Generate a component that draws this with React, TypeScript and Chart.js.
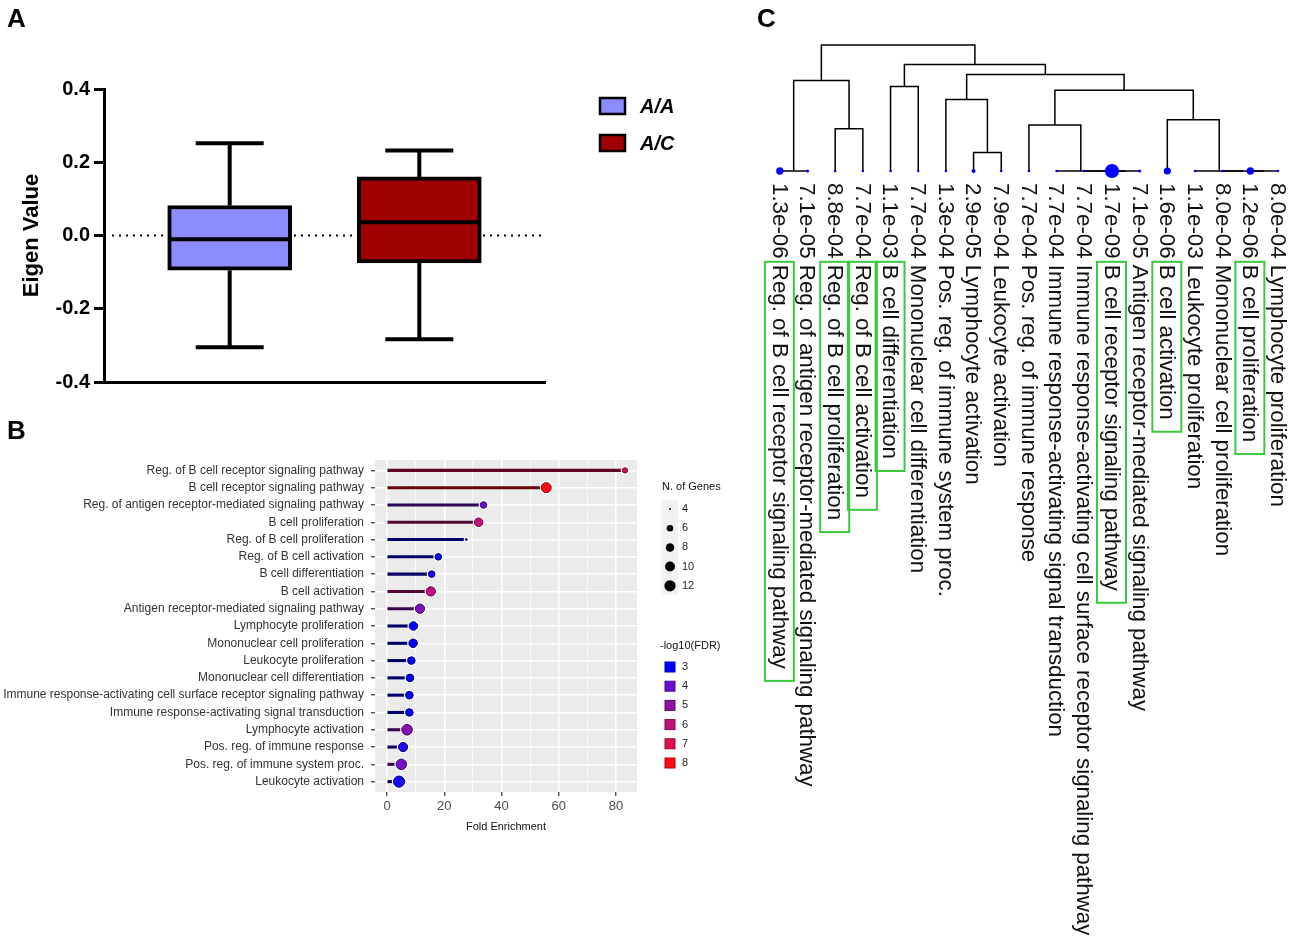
import React, { useEffect, useRef } from "react";
import { Chart, registerables } from "chart.js";

Chart.register(...registerables);

// ---------------- Panel A data ----------------
const groupLabels = ["A/A", "A/C"];
const boxMin = [-0.305, -0.283];
const boxQ1 = [-0.095, -0.075];
const boxMedian = [-0.01, 0.036];
const boxQ3 = [0.082, 0.16];
const boxMax = [0.252, 0.232];
const groupColors = ["#8C8CFF", "#A00000"];
const eigenTicks = [-0.4, -0.2, 0, 0.2, 0.4];

// ---------------- Panel B data ----------------
const termsB = [
  "Reg. of B cell receptor signaling pathway",
  "B cell receptor signaling pathway",
  "Reg. of antigen receptor-mediated signaling pathway",
  "B cell proliferation",
  "Reg. of B cell proliferation",
  "Reg. of B cell activation",
  "B cell differentiation",
  "B cell activation",
  "Antigen receptor-mediated signaling pathway",
  "Lymphocyte proliferation",
  "Mononuclear cell proliferation",
  "Leukocyte proliferation",
  "Mononuclear cell differentiation",
  "Immune response-activating cell surface receptor signaling pathway",
  "Immune response-activating signal transduction",
  "Lymphocyte activation",
  "Pos. reg. of immune response",
  "Pos. reg. of immune system proc.",
  "Leukocyte activation",
];
const foldEnrichment = [83.1, 55.6, 33.7, 32.0, 27.7, 17.9, 15.6, 15.3, 11.5, 9.2, 9.1, 8.5, 8.0, 7.8, 7.8, 7.0, 5.6, 5.0, 4.2];
const nGenes = [5, 10, 6, 8, 4, 6, 6, 9, 9, 8, 8, 7, 7, 7, 7, 11, 9, 11, 12];
const log10FDR = [6.8, 8, 4, 6, 3, 3, 3.2, 6, 4.5, 3, 3, 3, 3, 3, 3, 4.8, 3.3, 4.3, 3.2];
const foldTicks = [0, 10, 20, 30, 40, 50, 60, 70, 80];
const genesLegend = [4, 6, 8, 10, 12];
const fdrLegend = [3, 4, 5, 6, 7, 8];
const fdrAnchorColors = ["#0000FF", "#6A0FD2", "#9010A8", "#C2107A", "#E0104A", "#FF0A14"];

// ---------------- Panel C data ----------------
const leafPvals = [
  "1.3e-06", "7.1e-05", "8.8e-04", "7.7e-04", "1.1e-03", "7.7e-04", "1.3e-04", "2.9e-05", "7.9e-04", "7.7e-04",
  "7.7e-04", "7.7e-04", "1.7e-09", "7.1e-05", "1.6e-06", "1.1e-03", "8.0e-04", "1.2e-06", "8.0e-04",
];
const leafTerms = [
  "Reg. of B cell receptor signaling pathway",
  "Reg. of antigen receptor-mediated signaling pathway",
  "Reg. of B cell proliferation",
  "Reg. of B cell activation",
  "B cell differentiation",
  "Mononuclear cell differentiation",
  "Pos. reg. of immune system proc.",
  "Lymphocyte activation",
  "Leukocyte activation",
  "Pos. reg. of immune response",
  "Immune response-activating signal transduction",
  "Immune response-activating cell surface receptor signaling pathway",
  "B cell receptor signaling pathway",
  "Antigen receptor-mediated signaling pathway",
  "B cell activation",
  "Leukocyte proliferation",
  "Mononuclear cell proliferation",
  "B cell proliferation",
  "Lymphocyte proliferation",
];
const boxedLeaves = [0, 2, 3, 4, 12, 14, 17];
// hclust-style merges: negative = leaf (1-based), positive = earlier merge (1-based)
const mergeA = [-1, -13, -12, -11, -18, -17, -16, -8, -3, -10, -15, -7, 10, -5, 1, 12, 14, 15];
const mergeB = [-2, -14, 2, 3, -19, 5, 6, -9, -4, 4, 7, 8, 11, -6, 9, 13, 16, 17];
const mergeHeight = [0, 0, 0, 0, 0, 0, 0, 0.147, 0.336, 0.366, 0.406, 0.568, 0.64, 0.67, 0.718, 0.766, 0.846, 1.0];

// ---------------- helpers ----------------
const SANS = '"Liberation Sans", Arial, Helvetica, sans-serif';
const NARROW = '"Liberation Sans Narrow", "Arial Narrow", "Liberation Sans", Arial, sans-serif';

function hexToRgb(h: string) {
  const n = parseInt(h.slice(1), 16);
  return [(n >> 16) & 255, (n >> 8) & 255, n & 255];
}
function rgbStr(c: number[]) {
  return `rgb(${c.map((v) => Math.round(v)).join(",")})`;
}
function fdrRgb(v: number) {
  const t = Math.max(0, Math.min(4.999, v - 3));
  const i = Math.floor(t);
  const f = t - i;
  const a = hexToRgb(fdrAnchorColors[i]);
  const b = hexToRgb(fdrAnchorColors[i + 1]);
  return a.map((x, k) => x + (b[k] - x) * f);
}
function fdrColor(v: number, dark = 0) {
  return rgbStr(fdrRgb(v).map((x) => x * (1 - dark)));
}
function geneRadius(g: number) {
  return 1 + 4.6 * Math.sqrt(Math.max(0, g - 4) / 8);
}
function leafRadius(p: string) {
  const L = -Math.log10(parseFloat(p));
  return Math.max(1.3, 0.2 + (L - 3) * 1.2);
}

// ---------------- Panel A ----------------
function PanelA() {
  const ref = useRef<HTMLCanvasElement>(null);
  useEffect(() => {
    const plugin = {
      id: "boxExtras",
      beforeDatasetsDraw(chart: any) {
        const { ctx, chartArea, scales } = chart;
        const y0 = scales.y.getPixelForValue(0);
        ctx.save();
        ctx.strokeStyle = "#000";
        ctx.lineWidth = 2;
        ctx.setLineDash([2, 5]);
        ctx.beginPath();
        ctx.moveTo(chartArea.left + 8, y0);
        ctx.lineTo(chartArea.right - 4, y0);
        ctx.stroke();
        ctx.restore();
      },
      afterDatasetsDraw(chart: any) {
        const { ctx, scales } = chart;
        const { x, y } = scales;
        ctx.save();
        ctx.strokeStyle = "#000";
        ctx.lineWidth = 4;
        ctx.lineCap = "butt";
        groupLabels.forEach((_, i) => {
          const cx = x.getPixelForValue(i + 1);
          const yMax = y.getPixelForValue(boxMax[i]);
          const yMin = y.getPixelForValue(boxMin[i]);
          const yQ1 = y.getPixelForValue(boxQ1[i]);
          const yQ3 = y.getPixelForValue(boxQ3[i]);
          const yMed = y.getPixelForValue(boxMedian[i]);
          ctx.beginPath();
          ctx.moveTo(cx, yQ3);
          ctx.lineTo(cx, yMax);
          ctx.moveTo(cx - 34, yMax);
          ctx.lineTo(cx + 34, yMax);
          ctx.moveTo(cx, yQ1);
          ctx.lineTo(cx, yMin);
          ctx.moveTo(cx - 34, yMin);
          ctx.lineTo(cx + 34, yMin);
          ctx.moveTo(cx - 60, yMed);
          ctx.lineTo(cx + 60, yMed);
          ctx.stroke();
        });
        ctx.restore();
      },
      afterDraw(chart: any) {
        const { ctx } = chart;
        ctx.save();
        groupLabels.forEach((lab, i) => {
          const yc = 106 + 37 * i;
          ctx.fillStyle = groupColors[i];
          ctx.fillRect(600, yc - 8, 25, 16);
          ctx.strokeStyle = "#000";
          ctx.lineWidth = 2.5;
          ctx.strokeRect(600, yc - 8, 25, 16);
          ctx.fillStyle = "#000";
          ctx.font = `italic bold 20px ${SANS}`;
          ctx.textBaseline = "middle";
          ctx.textAlign = "left";
          ctx.fillText(lab, 640, yc + 1);
        });
        ctx.restore();
      },
    };
    const chart = new Chart(ref.current!, {
      type: "bar",
      data: {
        datasets: [
          {
            label: "box",
            data: groupLabels.map((_, i) => ({ x: i + 1, y: [boxQ1[i], boxQ3[i]] })) as any,
            backgroundColor: groupColors,
            borderColor: "#000",
            borderWidth: 4,
            borderSkipped: false,
            barThickness: 124,
          },
        ],
      },
      options: {
        responsive: false,
        animation: false,
        events: [],
        layout: { padding: { left: 0, top: 89, right: 195, bottom: 38 } },
        plugins: { legend: { display: false }, tooltip: { enabled: false } },
        scales: {
          x: {
            type: "linear",
            offset: false,
            min: 0.337,
            max: 2.663,
            ticks: { display: false },
            grid: { display: false, offset: false },
            border: { display: true, color: "#000", width: 3 },
            afterFit: (s: any) => {
              s.height = 0;
            },
          },
          y: {
            type: "linear",
            min: -0.4,
            max: 0.4,
            afterBuildTicks: (s: any) => {
              s.ticks = eigenTicks.map((v) => ({ value: v }));
            },
            afterFit: (s: any) => {
              s.width = 104;
            },
            ticks: {
              color: "#000",
              font: { family: SANS, size: 20, weight: "bold" },
              padding: 4,
              callback: (v: any) => Number(v).toFixed(1),
            },
            grid: { drawOnChartArea: false, drawTicks: true, tickLength: 10, color: "#000", lineWidth: 3 },
            border: { display: true, color: "#000", width: 3 },
            title: {
              display: true,
              text: "Eigen Value",
              color: "#000",
              font: { family: SANS, size: 22, weight: "bold" },
              padding: { top: 19, bottom: 0 },
            },
          },
        },
      },
      plugins: [plugin],
    } as any);
    return () => chart.destroy();
  }, []);
  return <canvas ref={ref} width={740} height={420} style={{ position: "absolute", left: 0, top: 0 }} />;
}

// ---------------- Panel B ----------------
function PanelB() {
  const ref = useRef<HTMLCanvasElement>(null);
  useEffect(() => {
    const TOP = 430;
    const plugin = {
      id: "lollipopExtras",
      beforeDraw(chart: any) {
        const { ctx, chartArea } = chart;
        ctx.save();
        ctx.fillStyle = "#EBEBEB";
        ctx.fillRect(chartArea.left, chartArea.top, chartArea.right - chartArea.left, chartArea.bottom - chartArea.top);
        ctx.restore();
      },
      afterDraw(chart: any) {
        const { ctx } = chart;
        ctx.save();
        ctx.textBaseline = "middle";
        ctx.textAlign = "left";
        ctx.fillStyle = "#111";
        ctx.font = `11px ${NARROW}`;
        ctx.fillText("N. of Genes", 662, 487 - TOP);
        ctx.fillStyle = "#F2F2F2";
        ctx.fillRect(661, 500 - TOP, 17, 95);
        genesLegend.forEach((g, i) => {
          const yc = 509 + 19.2 * i - TOP;
          ctx.fillStyle = "#000";
          ctx.beginPath();
          ctx.arc(670, yc, geneRadius(g), 0, Math.PI * 2);
          ctx.fill();
          ctx.fillStyle = "#222";
          ctx.font = `11px ${NARROW}`;
          ctx.fillText(String(g), 682, yc);
        });
        ctx.fillStyle = "#111";
        ctx.fillText("-log10(FDR)", 660, 646 - TOP);
        fdrLegend.forEach((v, i) => {
          const yc = 667 + 19.2 * i - TOP;
          ctx.fillStyle = fdrColor(v);
          ctx.fillRect(665, yc - 5, 10, 10);
          ctx.strokeStyle = fdrColor(v, 0.35);
          ctx.lineWidth = 1;
          ctx.strokeRect(665, yc - 5, 10, 10);
          ctx.fillStyle = "#222";
          ctx.fillText(String(v), 682, yc);
        });
        ctx.restore();
      },
    };
    const chart = new Chart(ref.current!, {
      type: "bar",
      data: {
        datasets: [
          {
            type: "bubble",
            label: "points",
            data: foldEnrichment.map((v, i) => ({ x: v, y: i, r: geneRadius(nGenes[i]) })),
            backgroundColor: log10FDR.map((v) => fdrColor(v)),
            borderColor: log10FDR.map((v) => fdrColor(v, 0.5)),
            borderWidth: 1,
          },
          {
            type: "bubble",
            label: "halo",
            data: foldEnrichment.map((v, i) => ({ x: v, y: i, r: geneRadius(nGenes[i]) + 1.6 })),
            backgroundColor: "#FFFFFF",
            borderWidth: 0,
          },
          {
            type: "bar",
            label: "stems",
            data: foldEnrichment.map((v, i) => ({ x: v, y: i })),
            backgroundColor: log10FDR.map((v) => fdrColor(v, 0.58)),
            borderWidth: 0,
            barThickness: 2.4,
          },
        ],
      },
      options: {
        indexAxis: "y",
        responsive: false,
        animation: false,
        events: [],
        layout: { padding: { left: 0, top: 30, right: 103, bottom: 8 } },
        plugins: { legend: { display: false }, tooltip: { enabled: false } },
        scales: {
          x: {
            type: "linear",
            offset: false,
            min: -4.2,
            max: 87.3,
            afterBuildTicks: (s: any) => {
              s.ticks = foldTicks.map((v) => ({ value: v }));
            },
            afterFit: (s: any) => {
              s.height = 50;
            },
            ticks: {
              autoSkip: false,
              maxRotation: 0,
              color: "#4D4D4D",
              font: { family: NARROW, size: 13 },
              padding: 3,
              callback: (v: any) => (Number(v) % 20 === 0 ? String(v) : ""),
            },
            grid: {
              offset: false,
              color: "#FFFFFF",
              lineWidth: (c: any) => (c.tick && c.tick.value % 20 === 0 ? 1.5 : 0.7),
              tickColor: (c: any) => (c.tick && c.tick.value % 20 === 0 ? "#333333" : "rgba(0,0,0,0)"),
              tickLength: 4,
              tickWidth: 1.2,
            },
            border: { display: false },
            title: {
              display: true,
              text: "Fold Enrichment",
              color: "#111",
              font: { family: NARROW, size: 11 },
              padding: { top: 0, bottom: 8 },
            },
          },
          y: {
            type: "linear",
            offset: false,
            reverse: true,
            min: -0.6,
            max: 18.6,
            afterBuildTicks: (s: any) => {
              s.ticks = termsB.map((_, i) => ({ value: i }));
            },
            afterFit: (s: any) => {
              s.width = 375;
            },
            ticks: {
              autoSkip: false,
              color: "#333333",
              font: { family: NARROW, size: 12 },
              padding: 7,
              callback: (v: any) => termsB[Math.round(Number(v))] ?? "",
            },
            grid: { offset: false, color: "#FFFFFF", lineWidth: 1.5, tickColor: "#333333", tickLength: 4, tickWidth: 1.2 },
            border: { display: false },
          },
        },
      },
      plugins: [plugin],
    } as any);
    return () => chart.destroy();
  }, []);
  return <canvas ref={ref} width={740} height={420} style={{ position: "absolute", left: 0, top: 430 }} />;
}

// ---------------- Panel C ----------------
function dendroSegments() {
  const pos: number[] = [];
  const hts: number[] = [];
  const segs: { x: number; y: number }[][] = [];
  mergeA.forEach((a, k) => {
    const b = mergeB[k];
    const get = (c: number): [number, number] => (c < 0 ? [-c - 1, 0] : [pos[c - 1], hts[c - 1]]);
    const [xa, ha] = get(a);
    const [xb, hb] = get(b);
    const h = mergeHeight[k];
    segs.push([
      { x: xa, y: ha },
      { x: xa, y: h },
      { x: xb, y: h },
      { x: xb, y: hb },
    ]);
    pos.push((xa + xb) / 2);
    hts.push(h);
  });
  return segs;
}

function PanelC() {
  const ref = useRef<HTMLCanvasElement>(null);
  useEffect(() => {
    const plugin = {
      id: "dendroLabels",
      afterDraw(chart: any) {
        const { ctx, scales } = chart;
        const y0 = 183;
        ctx.save();
        ctx.font = `22.3px ${SANS}`;
        ctx.textBaseline = "middle";
        ctx.textAlign = "left";
        leafTerms.forEach((term, i) => {
          const x = scales.x.getPixelForValue(i);
          const pre = leafPvals[i] + " ";
          const full = pre + term;
          ctx.save();
          ctx.translate(x, y0);
          ctx.rotate(Math.PI / 2);
          ctx.fillStyle = "#111";
          ctx.fillText(full, 0, 1);
          ctx.restore();
          if (boxedLeaves.includes(i)) {
            const s = ctx.measureText(pre).width;
            const e = ctx.measureText(full).width;
            ctx.strokeStyle = "#3CC83C";
            ctx.lineWidth = 2;
            ctx.strokeRect(x - 15, y0 + s - 3, 29, e - s + 15);
          }
        });
        ctx.restore();
      },
    };
    const segs = dendroSegments();
    const chart = new Chart(ref.current!, {
      type: "scatter",
      data: {
        datasets: [
          {
            label: "leaves",
            data: leafPvals.map((_, i) => ({ x: i, y: 0 })),
            pointRadius: leafPvals.map((p) => leafRadius(p)),
            pointBackgroundColor: "#0000FF",
            pointBorderWidth: 0,
            showLine: false,
            clip: false,
          },
          ...segs.map((s, k) => ({
            label: "m" + k,
            data: s,
            showLine: true,
            pointRadius: 0,
            borderColor: "#000",
            borderWidth: 1.5,
            clip: false,
          })),
        ],
      },
      options: {
        responsive: false,
        animation: false,
        events: [],
        layout: { padding: { left: 26, top: 45, right: 3, bottom: 771 } },
        plugins: { legend: { display: false }, tooltip: { enabled: false } },
        scales: {
          x: { type: "linear", min: -0.5, max: 18.5, display: false },
          y: { type: "linear", min: 0, max: 1, display: false },
        },
      },
      plugins: [plugin],
    } as any);
    return () => chart.destroy();
  }, []);
  return <canvas ref={ref} width={559} height={942} style={{ position: "absolute", left: 740, top: 0 }} />;
}

const letterStyle: React.CSSProperties = {
  position: "absolute",
  fontFamily: SANS,
  fontWeight: "bold",
  fontSize: 26,
  lineHeight: "26px",
  color: "#000",
};

export default function App() {
  return (
    <div style={{ position: "absolute", left: 0, top: 0, width: 1299, height: 942, background: "#fff", overflow: "hidden" }}>
      <PanelA />
      <PanelB />
      <PanelC />
      <div style={{ ...letterStyle, left: 7, top: 5 }}>A</div>
      <div style={{ ...letterStyle, left: 7, top: 417 }}>B</div>
      <div style={{ ...letterStyle, left: 757, top: 5 }}>C</div>
    </div>
  );
}
